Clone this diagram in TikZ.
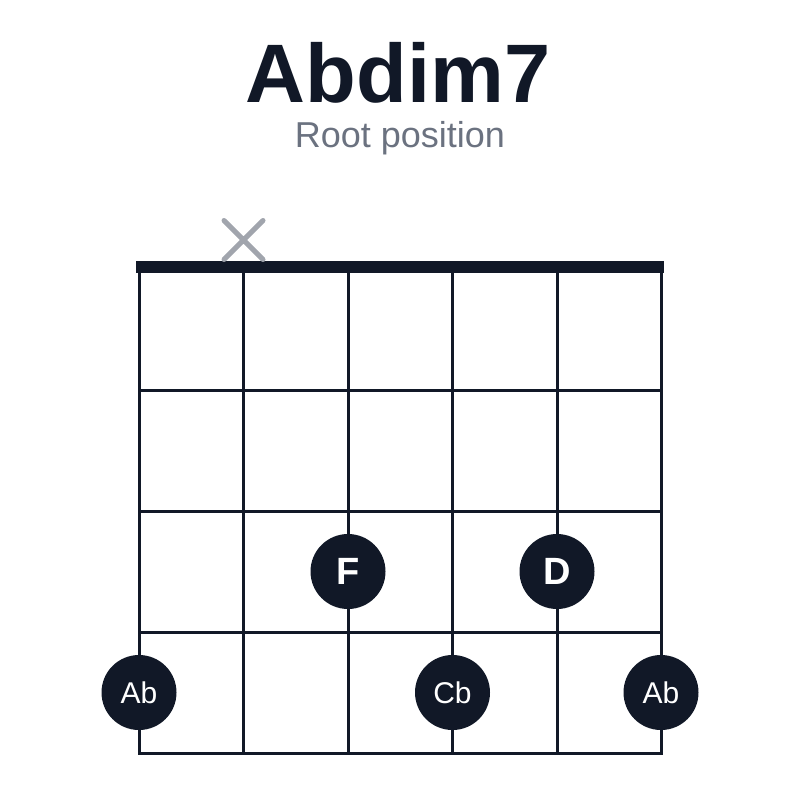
\documentclass[tikz,border=0pt]{standalone}
\usepackage{fontspec}
\setmainfont{Liberation Sans}
\usetikzlibrary{positioning, shapes.misc}

\definecolor{ink}{HTML}{111827}
\definecolor{subgray}{HTML}{6B7280}
\definecolor{mutegray}{HTML}{A1A5AD}

\tikzset{
  fretline/.style={draw=ink, line width=3pt, line cap=rect},
  nutline/.style={draw=ink, line width=12pt},
  finger/.style={circle, fill=ink, text=white, minimum size=75pt, inner sep=0pt},
  bignote/.style={finger, font=\fontsize{38}{40}\selectfont\bfseries},
  smallnote/.style={finger, font=\fontsize{30}{32}\selectfont},
  mutemark/.style={cross out, draw=mutegray, line width=5pt, line cap=round, minimum size=34pt, inner sep=0pt}
}

\begin{document}
\begin{tikzpicture}[x=1pt, y=-1pt]
			\useasboundingbox (0,0) rectangle (800,800);
			
			\node[anchor=base, text=ink, font=\fontsize{83}{88}\selectfont\bfseries] (title) at (398,102) {Abdim7};
			\node[anchor=base, text=subgray, font=\fontsize{36}{40}\selectfont] (subtitle) at (400,147) {Root position};
			
			% strings
			\coordinate (s1) at (139,267);
			\coordinate (s2) at (243.5,267);
			\coordinate (s3) at (348,267);
			\coordinate (s4) at (452.5,267);
			\coordinate (s5) at (557,267);
			\coordinate (s6) at (661,267);
			\coordinate (e1) at (139,753);
			\coordinate (e2) at (243.5,753);
			\coordinate (e3) at (348,753);
			\coordinate (e4) at (452.5,753);
			\coordinate (e5) at (557,753);
			\coordinate (e6) at (661,753);
			
			% frets
			\coordinate (f1l) at (139,390);
			\coordinate (f1r) at (661,390);
			\coordinate (f2l) at (139,511);
			\coordinate (f2r) at (661,511);
			\coordinate (f3l) at (139,632);
			\coordinate (f3r) at (661,632);
			
			% nut
			\coordinate (nl) at (136,267);
			\coordinate (nr) at (664,267);
			
			\draw[fretline] (s1) -- (e1);
			\draw[fretline] (s2) -- (e2);
			\draw[fretline] (s3) -- (e3);
			\draw[fretline] (s4) -- (e4);
			\draw[fretline] (s5) -- (e5);
			\draw[fretline] (s6) -- (e6);
			
			\draw[fretline] (f1l) -- (f1r);
			\draw[fretline] (f2l) -- (f2r);
			\draw[fretline] (f3l) -- (f3r);
			\draw[fretline] (e1) -- (e6);
			
			\draw[nutline] (nl) -- (nr);
			
			\node[mutemark] (mute) at (243.5,240) {};
			
			\node[bignote] (F) at (348,571.5) {F};
			\node[bignote] (D) at (557,571.5) {D};
			\node[smallnote] (Ab1) at (139,692.5) {Ab};
			\node[smallnote] (Cb) at (452.5,692.5) {Cb};
			\node[smallnote] (Ab2) at (661,692.5) {Ab};
\end{tikzpicture}
\end{document}
